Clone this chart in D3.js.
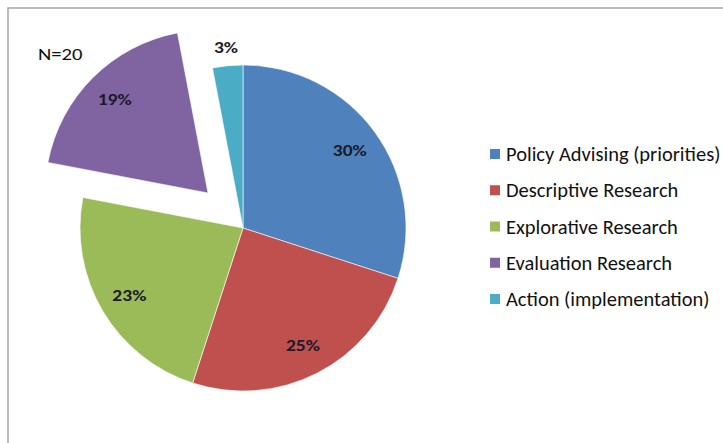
<!DOCTYPE html>
<html><head><meta charset="utf-8">
<script src="https://cdn.jsdelivr.net/npm/d3@7"></script>
<style>
html,body{margin:0;padding:0;background:#fff;}
svg{display:block;}
text{font-family:Carlito,Lato,"Open Sans",sans-serif;}
</style></head>
<body><svg id="chart" width="723" height="443"></svg>
<script>
const categories = ["Policy Advising (priorities)","Descriptive Research","Explorative Research","Evaluation Research","Action (implementation)"];
const values = [30, 25, 23, 19, 3];
const labels = ["30%","25%","23%","19%","3%"];
const colors = ["#4F81BD","#C0504D","#9BBB59","#8064A2","#4BACC6"];
const exploded = [false,false,false,true,false];
const note = "N=20";

const svg = d3.select("#chart");
svg.append("rect").attr("x",8).attr("y",8).attr("width",730).attr("height",450)
  .attr("fill","none").attr("stroke","#a6a6a6").attr("stroke-width",1.5);

function stext(parent, x, y, sx){
  return parent.append("text").attr("transform",`translate(${x},${y}) scale(${sx},1)`);
}

const cx = 243, cy = 228, R = 163, explode = 49.5;
const pie = d3.pie().sort(null).value(d=>d)(values);
const arc = d3.arc().innerRadius(0).outerRadius(R);
const g = svg.append("g").attr("transform",`translate(${cx},${cy})`);

pie.forEach((p,i)=>{
  const mid = (p.startAngle+p.endAngle)/2;
  const off = exploded[i] ? explode : 0;
  const dx = Math.sin(mid)*off, dy = -Math.cos(mid)*off;
  const sg = g.append("g").attr("transform",`translate(${dx},${dy})`);
  sg.append("path").attr("d",arc(p)).attr("fill",colors[i]).attr("stroke","#fff").attr("stroke-width",0.6);
  const lr = values[i] < 5 ? R*1.11 : R*0.81;
  stext(sg, Math.sin(mid)*lr, -Math.cos(mid)*lr + 5.5, 1.22)
    .attr("text-anchor","middle")
    .attr("font-size",16).attr("font-weight","bold").attr("fill","#1a1a2a")
    .text(labels[i]);
});

stext(svg, 38, 59.5, 1.25).attr("font-size",16.5).attr("fill","#111").text(note);

const lg = svg.append("g");
const rowY = d3.scalePoint().domain(categories).range([154,299]);
categories.forEach((c,i)=>{
  const y = rowY(c);
  lg.append("rect").attr("x",490).attr("y",y-5).attr("width",10).attr("height",10).attr("fill",colors[i]);
  stext(lg, 506, y+7, 1.05)
    .attr("font-size",19.5).attr("fill","#111").text(c);
});
</script></body></html>
